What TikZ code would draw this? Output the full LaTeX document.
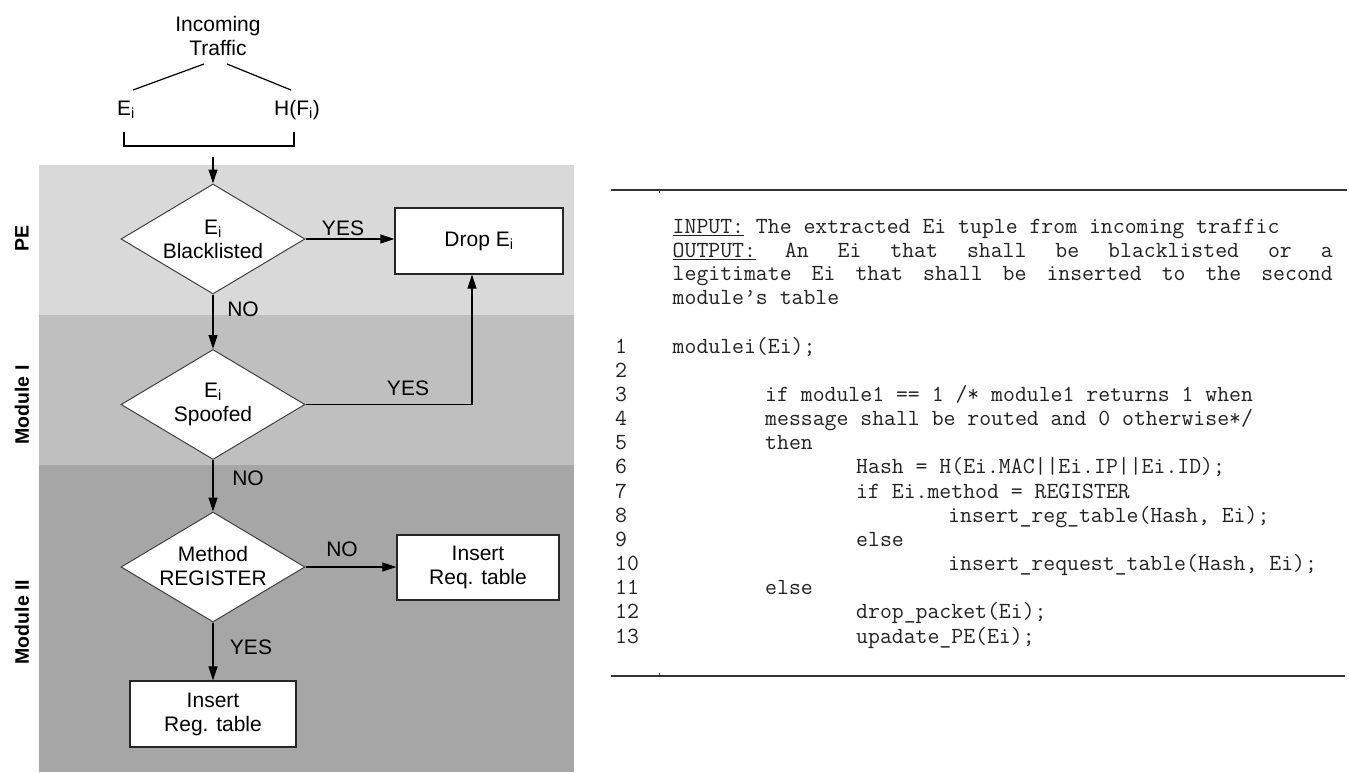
\documentclass[tikz,border=0pt]{standalone}
\usepackage{fontspec}
\setmainfont{Liberation Sans}
\usetikzlibrary{arrows.meta,shapes.geometric}
\definecolor{bandPE}{HTML}{D9D9D9}
\definecolor{bandMI}{HTML}{BFBFBF}
\definecolor{bandMII}{HTML}{A6A6A6}
\definecolor{rulecol}{HTML}{333333}
\definecolor{codecol}{HTML}{222222}
\begin{document}
\begin{tikzpicture}[x=1pt,y=-1pt,
  txt/.style={font=\fontsize{21}{24}\selectfont, inner sep=0pt, align=center},
  sidelbl/.style={font=\fontsize{19.5}{22}\selectfont\bfseries, inner sep=0pt, rotate=90},
  dia/.style={draw=black!75, fill=white, line width=1pt, diamond, minimum width=184pt, minimum height=110pt, inner sep=0pt},
  boxnode/.style={draw=black!85, fill=white, line width=1.3pt, inner sep=0pt, font=\fontsize{21}{24}\selectfont, align=center},
  arr/.style={line width=1.2pt, -{Triangle[length=14pt,width=9pt]}},
  codeline/.style={font=\ttfamily\fontsize{23.1}{26}\selectfont, text=codecol, anchor=base west, inner sep=0pt},
  rulestyle/.style={draw=rulecol, line width=1.3pt},
]
\useasboundingbox (0,0) rectangle (1349,772);
\fill[white] (0,0) rectangle (1349,772);

% bands
\fill[bandPE] (39,165) rectangle (574,315);
\fill[bandMI] (39,315) rectangle (574,465);
\fill[bandMII] (39,465) rectangle (574,772);

% side labels
\node[sidelbl] (lblPE) at (22,238) {PE};
\node[sidelbl] (lblMI) at (22,405) {Module I};
\node[sidelbl] (lblMII) at (22,622) {Module II};

% top part
\node[txt] (inc) at (218,35.5) {Incoming\\Traffic};
\node[txt] (ei) at (126,110) {E\textsubscript{i}};
\node[txt] (hfi) at (297,110) {H(F\textsubscript{i})};
\coordinate (l1a) at (133,90);
\coordinate (l1b) at (204,64);
\coordinate (l2a) at (227,64);
\coordinate (l2b) at (291,90);
\draw[line width=1.2pt] (l1a) -- (l1b);
\draw[line width=1.2pt] (l2a) -- (l2b);
\coordinate (brL) at (124,132);
\coordinate (brR) at (294,132);
\draw[line width=2pt] (brL) -- (124,145.5) -- (294,145.5) -- (brR);
\coordinate (inArr) at (213,157);

% diamonds
\node[dia] (d1) at (213,239) {};
\node[txt] (d1t) at (213,239) {E\textsubscript{i}\\Blacklisted};
\node[dia] (d2) at (213,404.5) {};
\node[txt] (d2t) at (213,404) {E\textsubscript{i}\\Spoofed};
\node[dia] (d3) at (213,567) {};
\node[txt] (d3t) at (213,566) {Method\\REGISTER};

% boxes
\node[boxnode, minimum width=168pt, minimum height=66pt] (drop) at (479,241) {Drop E\textsubscript{i}};
\node[boxnode, minimum width=162pt, minimum height=65pt] (req) at (478,567.5) {Insert\\Req. table};
\node[boxnode, minimum width=166pt, minimum height=66pt] (reg) at (213,714) {Insert\\Reg. table};

% connectors
\draw[arr] (inArr) -- (d1.north);
\draw[arr] (d1.east) -- (d1.east -| drop.west);
\draw[arr] (d1.south) -- (d2.north);
\draw[arr] (d2.east) -| ([xshift=-7pt]drop.south);
\draw[arr] (d2.south) -- (d3.north);
\draw[arr] (d3.east) -- (d3.east -| req.west);
\draw[arr] (d3.south) -- (reg.north);

% connector labels
\node[txt] (y1) at (343,228) {YES};
\node[txt] (n1) at (243,309) {NO};
\node[txt] (y2) at (408,388) {YES};
\node[txt] (n2) at (248,478) {NO};
\node[txt] (n3) at (342,549) {NO};
\node[txt] (y3) at (251,647) {YES};

% algorithm rules
\coordinate (r1a) at (611,190);
\coordinate (r1b) at (1347,190);
\coordinate (r2a) at (611,676);
\coordinate (r2b) at (1345,676);
\draw[rulestyle] (r1a) -- (r1b);
\draw[rulestyle] (r2a) -- (r2b);
\draw[draw=rulecol, line width=0.6pt] (659,190) -- (659,193);
\draw[draw=rulecol, line width=0.6pt] (659,676) -- (659,673);

% header text
\node[codeline] (h1) at (672.5,233.5) {\underline{INPUT:} The extracted Ei tuple from incoming traffic};
\node[codeline] (h2) at (672.5,257.2) {\makebox[660pt][l]{\underline{OUTPUT:}\hfill An\hfill Ei\hfill that\hfill shall\hfill be\hfill blacklisted\hfill or\hfill a}};
\node[codeline] (h3) at (672.5,280.9) {\makebox[660pt][l]{legitimate\hfill Ei\hfill that\hfill shall\hfill be\hfill inserted\hfill to\hfill the\hfill second}};
\node[codeline] (h4) at (672.5,304.6) {module’s table};

% line numbers
\foreach \k in {1,...,13} {
  \node[codeline] (num\k) at (615,{353+(\k-1)*24.17}) {\k};
}

% code
\node[codeline] (c1) at (672.5,353) {modulei(Ei);};
\node[codeline] (c3) at (765,401.34) {if module1 == 1 /* module1 returns 1 when};
\node[codeline] (c4) at (765,425.51) {message shall be routed and 0 otherwise*/};
\node[codeline] (c5) at (765,449.68) {then};
\node[codeline] (c6) at (856,473.85) {Hash = H(Ei.MAC||Ei.IP||Ei.ID);};
\node[codeline] (c7) at (856,498.02) {if Ei.method = REGISTER};
\node[codeline] (c8) at (948,522.19) {insert\_reg\_table(Hash, Ei);};
\node[codeline] (c9) at (856,546.36) {else};
\node[codeline] (c10) at (948,570.53) {insert\_request\_table(Hash, Ei);};
\node[codeline] (c11) at (765,594.7) {else};
\node[codeline] (c12) at (856,618.87) {drop\_packet(Ei);};
\node[codeline] (c13) at (856,643.04) {upadate\_PE(Ei);};
\end{tikzpicture}
\end{document}
